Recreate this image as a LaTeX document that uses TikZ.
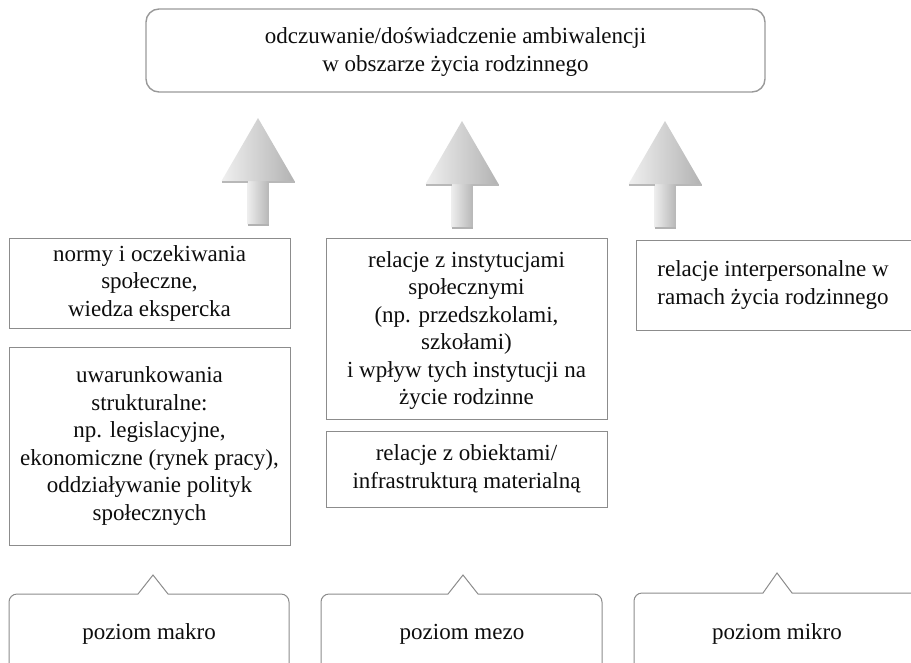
\documentclass[tikz,border=0pt]{standalone}
\usepackage{fontspec}
\setmainfont{Liberation Serif}
\begin{document}
\begin{tikzpicture}[x=1pt,y=1pt,
  txt/.style={text=black!95, font=\fontsize{23}{27.5}\selectfont, align=center, inner sep=0pt},
  box/.style={draw=black!45, line width=1pt, rectangle, inner sep=0pt, outer sep=0pt},
  topbox/.style={draw=black!40, line width=1.4pt, rounded corners=13pt, inner sep=0pt, outer sep=0pt},
  callline/.style={draw=black!45, line width=1pt},
  uparr/.pic={
    \shade[left color=black!7, right color=black!28] (-10.5,-106) rectangle (10.5,-62);
    \fill[black!30] (-10.5,-106) rectangle (10.5,-108);
    \shade[left color=black!6, right color=black!30] (-36.5,-63) -- (0,0) -- (36.5,-63) -- cycle;
    \fill[black!28] (-36.5,-63) rectangle (-10.5,-65);
    \fill[black!28] (10.5,-63) rectangle (36.5,-65);
  }]
\useasboundingbox (0,0) rectangle (911,-662);
\clip (0,0) rectangle (911,-662);

% top box
\node[topbox, minimum width=619pt, minimum height=83pt] (top) at (455.5,-50.5) {};
\node[txt] (toptxt) at ([yshift=-1.5pt]top.center) {odczuwanie/doświadczenie ambiwalencji\\w obszarze życia rodzinnego};

% arrows
\pic at (258,-118) {uparr};
\pic at (462,-121) {uparr};
\pic at (665,-121) {uparr};

% left column
\node[box, minimum width=281pt, minimum height=90pt] (normy) at (149.5,-283) {};
\node[txt] at (normy.center) {normy i oczekiwania\\społeczne,\\wiedza ekspercka};
\node[box, minimum width=281pt, minimum height=198pt] (uwar) at (149.5,-446) {};
\node[txt] at (uwar.center) {uwarunkowania\\strukturalne:\\np. legislacyjne,\\ekonomiczne (rynek pracy),\\oddziaływanie polityk\\społecznych};

% middle column
\node[box, minimum width=281pt, minimum height=181pt] (inst) at (466.5,-328.5) {};
\node[txt] at ([yshift=-2pt]inst.center) {relacje z instytucjami\\społecznymi\\(np. przedszkolami,\\szkołami)\\i wpływ tych instytucji na\\życie rodzinne};
\node[box, minimum width=290pt, minimum height=90pt] (inter) at (781,-285) {};
\node[txt] at ([xshift=-8pt]inter.center) {relacje interpersonalne w\\ramach życia rodzinnego};
\node[box, minimum width=281pt, minimum height=76pt] (obj) at (466.5,-469) {};
\node[txt] at (obj.center) {relacje z obiektami/\\infrastrukturą materialną};

% bottom callouts
\draw[callline] (9,-700) -- (9,-602) arc(180:90:8) -- (138,-594) -- (153,-575) -- (168,-594) -- (281,-594) arc(90:0:8) -- (289,-700);
\draw[callline] (321,-700) -- (321,-602) arc(180:90:8) -- (448,-594) -- (463,-575) -- (478,-594) -- (594,-594) arc(90:0:8) -- (602,-700);
\draw[callline] (634,-700) -- (634,-601) arc(180:90:8) -- (763,-593) -- (777,-573) -- (792,-593) -- (912,-593) arc(90:0:8) -- (920,-700);
\node[txt] (makro) at (149,-634) {poziom makro};
\node[txt] (mezo) at (462,-634) {poziom mezo};
\node[txt] (mikro) at (777,-634) {poziom mikro};
\end{tikzpicture}
\end{document}
